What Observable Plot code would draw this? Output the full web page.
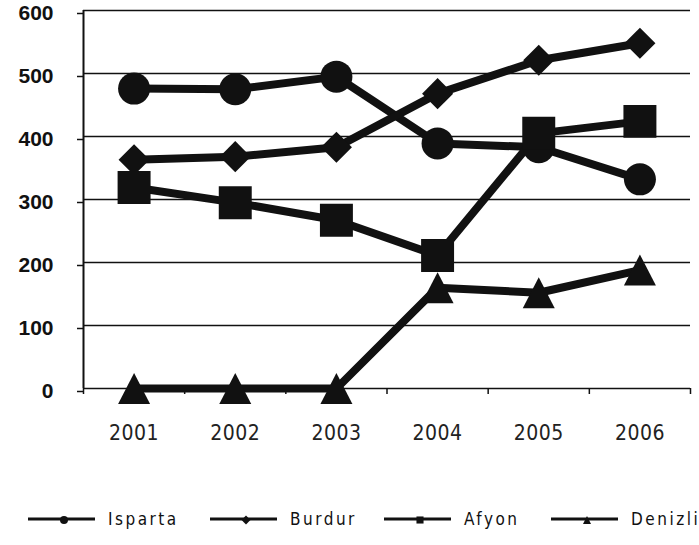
<!DOCTYPE html>
<html>
<head>
<meta charset="utf-8">
<script src="https://cdn.jsdelivr.net/npm/d3@7"></script>
<script src="https://cdn.jsdelivr.net/npm/@observablehq/plot@0.6"></script>
<style>
  html, body { margin: 0; padding: 0; background: #fff; }
  #chart { width: 699px; }
  #chart svg { display: block; }
  #legend { position: relative; width: 699px; height: 85px; }
  .item { position: absolute; display: flex; align-items: center; height: 24px; top: 47px; }
  .item span {
    font-family: "DejaVu Sans Condensed", "Liberation Sans", sans-serif;
    font-size: 17px; letter-spacing: 2.5px; color: #111; margin-left: 13px;
  }
</style>
</head>
<body>
<div id="chart"></div>
<div id="legend"></div>
<script>
// Years on the horizontal axis
const years = [2001, 2002, 2003, 2004, 2005, 2006];

// One series per province
const isparta = [476, 475, 495, 389, 383, 332];
const burdur  = [363, 368, 383, 468, 521, 548];
const afyon   = [319, 295, 267, 211, 405, 424];
const denizli = [0, 0, 0, 160, 152, 188];

const seriesNames = ["Isparta", "Burdur", "Afyon", "Denizli"];
const yTicks = [0, 100, 200, 300, 400, 500, 600];

// Vertically centred triangle marker
const triangleUp = {
  draw(context, size) {
    const r = Math.sqrt(size / Math.PI);
    const h = r * 0.97;
    context.moveTo(0, -h);
    context.lineTo(r, h);
    context.lineTo(-r, h);
    context.closePath();
  }
};

const seriesValues = [isparta, burdur, afyon, denizli];
const markers = [
  {symbol: "circle", r: 16},
  {symbol: "diamond2", r: 14},
  {symbol: "square", r: 18.6},
  {symbol: triangleUp, r: 16}
];

const rows = seriesNames.flatMap((name, i) =>
  years.map((year, j) => ({city: name, year, value: seriesValues[i][j]}))
);

// Category boundaries for the small x-axis tick marks
const boundaries = [years[0] - 0.5, ...years.map(y => y + 0.5)];

const ink = "#111";
const dotOrder = ["Isparta", "Burdur", "Denizli", "Afyon"];

const chart = Plot.plot({
  width: 699,
  height: 460,
  marginLeft: 83,
  marginRight: 9,
  marginTop: 10,
  marginBottom: 72,
  x: {type: "linear", domain: [years[0] - 0.5, years[years.length - 1] + 0.5]},
  y: {domain: [0, 600]},
  marks: [
    Plot.ruleY(yTicks, {stroke: ink, strokeWidth: 1.5}),
    Plot.ruleX([years[0] - 0.5], {y1: 0, y2: 600, stroke: ink, strokeWidth: 2}),
    Plot.axisY({
      ticks: yTicks, tickSize: 6, tickPadding: 24, stroke: ink, strokeWidth: 1.5,
      fontSize: 21, fontWeight: "bold", fontFamily: "Liberation Sans, Arial, sans-serif",
      fill: ink, dy: 3, label: null
    }),
    Plot.axisX({
      ticks: boundaries, tickSize: 6, tickFormat: () => "", stroke: ink, strokeWidth: 1.5, label: null
    }),
    Plot.axisX({
      ticks: years, tickSize: 0, tickPadding: 37, tickFormat: d => String(d),
      fontSize: 21, fill: "#222", label: null,
      fontFamily: "DejaVu Sans Condensed, Liberation Sans, sans-serif"
    }),
    Plot.line(rows, {x: "year", y: "value", z: "city", stroke: ink, strokeWidth: 8, strokeLinejoin: "round"}),
    ...dotOrder.map(name => {
      const m = markers[seriesNames.indexOf(name)];
      return Plot.dot(rows.filter(d => d.city === name), {
        x: "year", y: "value", symbol: m.symbol, r: m.r, fill: ink, stroke: "none"
      });
    })
  ]
});

// Slight spacing between the year digits
chart.querySelectorAll("text").forEach(t => {
  if (/^\d{4}$/.test(t.textContent)) t.setAttribute("letter-spacing", "0.5");
});
document.getElementById("chart").appendChild(chart);

// Legend below the chart
const legendLeft = [28, 210, 384, 551];
const legend = document.getElementById("legend");
const ns = "http://www.w3.org/2000/svg";
seriesNames.forEach((name, i) => {
  const item = document.createElement("div");
  item.className = "item";
  item.style.left = legendLeft[i] + "px";
  const svg = document.createElementNS(ns, "svg");
  svg.setAttribute("width", 67);
  svg.setAttribute("height", 24);
  const line = document.createElementNS(ns, "line");
  line.setAttribute("x1", 0); line.setAttribute("x2", 67);
  line.setAttribute("y1", 12); line.setAttribute("y2", 12);
  line.setAttribute("stroke", ink); line.setAttribute("stroke-width", 3);
  svg.appendChild(line);
  const sym = markers[i].symbol;
  const type = typeof sym === "string"
    ? {circle: d3.symbolCircle, diamond2: d3.symbolDiamond2, square: d3.symbolSquare}[sym]
    : sym;
  const p = document.createElementNS(ns, "path");
  p.setAttribute("d", d3.symbol(type, Math.PI * 16)());
  p.setAttribute("transform", "translate(36,13)");
  p.setAttribute("fill", ink);
  svg.appendChild(p);
  item.appendChild(svg);
  const label = document.createElement("span");
  label.textContent = name;
  item.appendChild(label);
  legend.appendChild(item);
});
</script>
</body>
</html>
